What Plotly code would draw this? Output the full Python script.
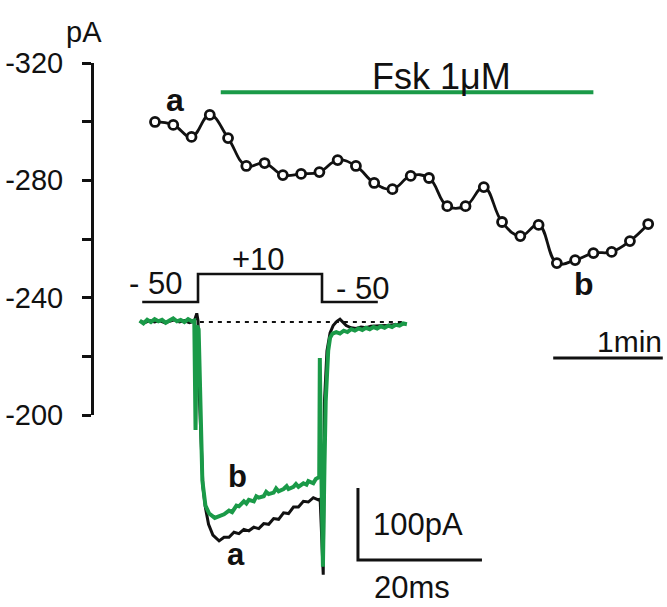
import plotly.graph_objects as go

# ---------------- main time course (peak current, pA) ----------------
time_s = [0, 10, 20, 30, 40, 50, 60, 70, 80, 90, 100, 110, 120, 130,
          140, 150, 160, 170, 180, 190, 200, 210, 220, 230, 240, 250, 260, 270]
peak_pA = [-299.9, -298.9, -294.8, -302.3, -294.4, -284.9, -285.9, -281.8,
           -282.2, -282.8, -286.9, -284.9, -279.1, -277.0, -281.5, -280.8,
           -271.2, -271.2, -277.7, -265.8, -261.0, -264.8, -251.8, -252.8,
           -255.2, -255.6, -259.3, -265.1]
fsk_start_s, fsk_end_s, fsk_level = 36, 240, -310
y_tickvals = [-320, -300, -280, -260, -240, -220, -200]
y_ticktext = ['-320', '', '-280', '', '-240', '', '-200']
min_bar_s = [218, 278]
min_bar_level = -219.4

# ---------------- inset current traces (ms, pA) ----------------
black_t = [0.6, 1.4, 2.2, 3.0, 3.8, 4.6, 5.4, 6.2, 7.0, 7.8, 8.6, 9.4, 9.8, 10.0,
           10.2, 10.5, 10.8, 11.2, 11.7, 12.4, 13.4, 14.2, 15.0, 15.8, 16.6, 17.4,
           18.2, 19.0, 19.8, 20.6, 21.4, 22.2, 23.0, 23.8, 24.6, 25.4, 26.2, 27.0,
           27.8, 28.6, 29.4, 29.7, 29.9, 30.2, 30.3, 30.4, 30.8, 31.3, 31.8, 32.4,
           32.9, 33.4, 33.9, 34.7, 35.5, 36.3, 37.1, 37.9, 38.7, 39.5, 40.3, 41.1,
           41.9, 42.7, 43.5]
black_i = [1, -1, 2, 0, 2, -1, 1, 3, 0, 2, -1, 1, 12, 2,
           -100, -180, -230, -258, -281, -296, -304, -299, -299, -292, -294, -288,
           -290, -285, -287, -280, -281, -273, -274, -265, -266, -257, -257, -249,
           -250, -244, -247, -246, -300, -351, -240, -110, -40, -15, -5, 1,
           4, 0, -5, -8, -9, -7, -8, -6, -6, -5, -5, -4,
           -4, -3, -2]

green_t = [0.6, 1.2, 1.8, 2.4, 3.0, 3.6, 4.2, 4.8, 5.4, 6.0, 6.6, 7.2, 7.8, 8.4,
           9.0, 9.4, 9.6, 9.8, 10.1, 10.4, 10.7, 11.2, 11.8, 12.7, 13.4, 14.2,
           15.0, 15.5, 16.2, 16.6, 17.4, 17.8, 18.2, 19.0, 19.4, 19.8, 20.6, 21.0,
           21.4, 22.2, 22.6, 23.0, 23.8, 24.3, 24.6, 25.4, 25.8, 26.2, 27.0, 27.5,
           27.8, 28.6, 29.0, 29.4, 29.55, 29.65, 29.8, 30.0,
           30.15, 30.4, 30.6, 31.0, 31.3, 31.7, 32.3, 32.9, 33.5, 34.1, 34.7, 35.3,
           35.9, 36.5, 37.1, 37.7, 38.3, 38.9, 39.5, 40.1, 40.7, 41.3, 41.9, 42.5,
           43.1, 43.7]
green_i = [2, -2, 3, 0, 4, 1, 3, -1, 2, 5, 1, 3, 0, 4,
           1, 2, -150, -5, -10, -150, -220, -255, -266, -272, -270, -267,
           -262, -264, -255, -256, -249, -252, -247, -249, -242, -244, -242, -236,
           -239, -237, -231, -235, -232, -228, -232, -229, -225, -229, -224, -226,
           -221, -224, -218, -216, -217, -50, -160, -335,
           -340, -200, -110, -40, -22, -16, -14, -16, -12, -14, -10, -12,
           -9, -11, -8, -10, -7, -9, -6, -8, -5, -7, -4, -5,
           -2, -3]

baseline_t = [10.3, 43.3]
baseline_i = [0, 0]

# voltage protocol (ms, mV)
vp_t = [1, 10, 10, 30, 30, 39]
vp_mV = [-50, -50, 10, 10, -50, -50]

# scale bars (ms, pA)
sb_t = [35.8, 35.8, 55.8]
sb_i = [-230.6, -330.6, -330.6]

BLACK = '#111111'
GREEN = '#1a9a48'
FONT = 'Liberation Sans, Arial, sans-serif'

fig = go.Figure()

# --- main time course
fig.add_trace(go.Scatter(x=[fsk_start_s, fsk_end_s], y=[fsk_level, fsk_level],
                         mode='lines', line=dict(color=GREEN, width=4),
                         xaxis='x', yaxis='y', hoverinfo='skip'))
fig.add_trace(go.Scatter(x=time_s, y=peak_pA, mode='lines+markers',
                         line=dict(color=BLACK, width=2.8, shape='spline', smoothing=1.2),
                         marker=dict(symbol='circle', size=9, color='white',
                                     line=dict(color=BLACK, width=2.8)),
                         xaxis='x', yaxis='y'))
fig.add_trace(go.Scatter(x=min_bar_s, y=[min_bar_level, min_bar_level], mode='lines',
                         line=dict(color=BLACK, width=3), xaxis='x', yaxis='y'))

# --- inset
fig.add_trace(go.Scatter(x=vp_t, y=vp_mV, mode='lines',
                         line=dict(color=BLACK, width=2.6), xaxis='x2', yaxis='y3'))
fig.add_trace(go.Scatter(x=baseline_t, y=baseline_i, mode='lines',
                         line=dict(color=BLACK, width=2.2, dash='4px,5px'),
                         xaxis='x2', yaxis='y2'))
fig.add_trace(go.Scatter(x=black_t, y=black_i, mode='lines',
                         line=dict(color=BLACK, width=3), xaxis='x2', yaxis='y2'))
fig.add_trace(go.Scatter(x=green_t, y=green_i, mode='lines',
                         line=dict(color=GREEN, width=4), xaxis='x2', yaxis='y2'))
fig.add_trace(go.Scatter(x=sb_t, y=sb_i, mode='lines',
                         line=dict(color=BLACK, width=3), xaxis='x2', yaxis='y2'))

W, H = 667, 607

fig.update_layout(
    template='none',
    width=W, height=H, margin=dict(l=0, r=0, t=0, b=0, pad=0, autoexpand=False),
    paper_bgcolor='white', plot_bgcolor='rgba(0,0,0,0)',
    showlegend=False, font=dict(family=FONT, color=BLACK),
    xaxis=dict(domain=[0, 1], range=[-84.85, 280.3], visible=False, anchor='y',
               automargin=False),
    yaxis=dict(domain=[1 - 415 / H, 1 - 63 / H], range=[-200, -320],
               anchor='free', position=92 / W, automargin=False,
               showline=True, linewidth=3, linecolor=BLACK,
               ticks='outside', ticklen=9, tickwidth=3, tickcolor=BLACK,
               tickvals=y_tickvals, ticktext=y_ticktext,
               tickfont=dict(size=29, family=FONT, color=BLACK),
               ticklabelstandoff=13,
               showgrid=False, zeroline=False),
    xaxis2=dict(domain=[0, 1], range=[-21.94, 85.65], visible=False, anchor='y2',
                automargin=False),
    yaxis2=dict(domain=[0, 1], range=[-395.8, 447.2], visible=False, anchor='x2',
                automargin=False),
    yaxis3=dict(domain=[0, 1], range=[-703.5, 597.1], visible=False, anchor='x2',
                overlaying='y2', automargin=False),
)

def ann(text, x, y, xref, yref, size, bold=False):
    fig.add_annotation(text=f'<b>{text}</b>' if bold else text, x=x, y=y,
                       xref=xref, yref=yref, showarrow=False,
                       xanchor='center', yanchor='middle',
                       font=dict(size=size, family=FONT, color=BLACK))

ann('pA', 84 / W, 1 - 32 / H, 'paper', 'paper', 29)
ann('Fsk 1μM', 157, -315.5, 'x', 'y', 36)
ann('a', 11, -307.5, 'x', 'y', 32, bold=True)
ann('b', 235, -244.5, 'x', 'y', 32, bold=True)
ann('1min', 260, -225, 'x', 'y', 30)

ann('- 50', 3.2, -11, 'x2', 'y3', 31)
ann('+10', 19.8, 42, 'x2', 'y3', 31)
ann('- 50', 36.5, -20, 'x2', 'y3', 31)
ann('b', 16.4, -214, 'x2', 'y2', 31, bold=True)
ann('a', 16.1, -323, 'x2', 'y2', 31, bold=True)
ann('100pA', 45.5, -281, 'x2', 'y2', 31)
ann('20ms', 44.5, -369, 'x2', 'y2', 31)

fig.write_html('out.html')
